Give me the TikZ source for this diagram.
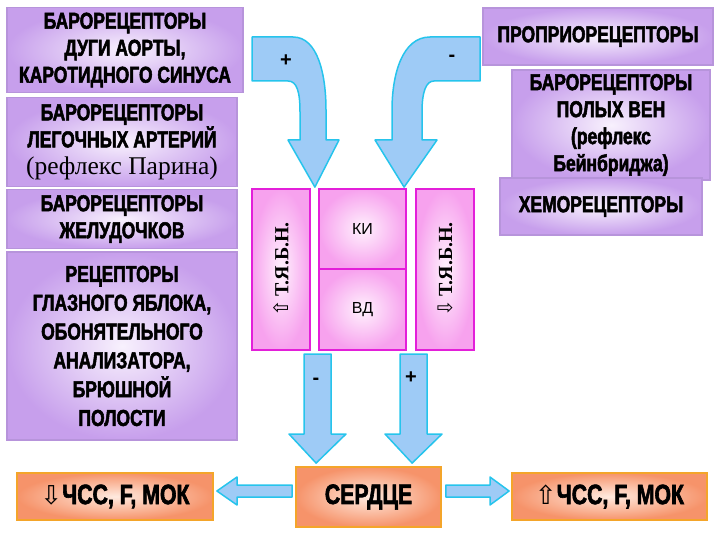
\documentclass[tikz,border=0pt]{standalone}
\usepackage{fontspec}
\usetikzlibrary{calc}
\setmainfont{Liberation Sans}
\newfontfamily\imp[FakeStretch=0.76,FakeBold=2.2]{Liberation Sans Bold}
\newfontfamily\ser{Liberation Serif}
\newfontfamily\dv{DejaVu Sans}
\definecolor{lavD}{HTML}{C79FEC}
\definecolor{lavL}{HTML}{F8F1FD}
\definecolor{lavB}{HTML}{B794DB}
\definecolor{pinkO}{HTML}{F7A2EE}
\definecolor{pinkI}{HTML}{FFF2FD}
\definecolor{pinkB}{HTML}{E31FD9}
\definecolor{orO}{HTML}{F6936A}
\definecolor{orI}{HTML}{FFEADF}
\definecolor{orB}{HTML}{F4A52A}
\definecolor{arF}{HTML}{9ECBF6}
\definecolor{arB}{HTML}{26C4EC}
\tikzset{
  lav/.style={draw=lavB, line width=1.6pt, inner color=lavL, outer color=lavD,
    align=center, inner sep=0pt, font=\imp\fontsize{23}{27}\selectfont},
  pinkbox/.style={draw=pinkB, line width=1.8pt, inner color=pinkI, outer color=pinkO, inner sep=0pt},
  orbox/.style={draw=orB, line width=1.8pt, inner color=orI, outer color=orO, inner sep=0pt,
    font=\imp\fontsize{28}{30}\selectfont},
  fat/.style={draw=arB, line width=1.5pt, fill=arF, line join=round},
  sign/.style={font=\bfseries\fontsize{20}{20}\selectfont, inner sep=0pt},
  tybn/.style={rotate=90, font=\ser\bfseries\fontsize{20}{20}\selectfont, inner sep=0pt}
}
\begin{document}
\begin{tikzpicture}[x=1pt,y=-1pt]
\useasboundingbox (0,0) rectangle (720,540);
% left column
\node[lav, minimum width=236pt, minimum height=85pt] (b1) at (125,50)
  {БАРОРЕЦЕПТОРЫ\\ДУГИ АОРТЫ,\\КАРОТИДНОГО СИНУСА};
\node[lav, minimum width=230pt, minimum height=89pt] (b2) at (122,142)
  {БАРОРЕЦЕПТОРЫ\\ЛЕГОЧНЫХ АРТЕРИЙ\\{\ser\fontsize{25.5}{29}\selectfont(рефлекс Парина)}};
\node[lav, minimum width=230pt, minimum height=59pt] (b3) at (122,219)
  {БАРОРЕЦЕПТОРЫ\\ЖЕЛУДОЧКОВ};
\node[lav, minimum width=230pt, minimum height=188pt, font=\imp\fontsize{23}{28.8}\selectfont] (b4) at (122,346)
  {РЕЦЕПТОРЫ\\ГЛАЗНОГО ЯБЛОКА,\\ОБОНЯТЕЛЬНОГО\\АНАЛИЗАТОРА,\\БРЮШНОЙ\\ПОЛОСТИ};
% right column
\node[lav, minimum width=230pt, minimum height=57pt] (p1) at (598,36.5)
  {ПРОПРИОРЕЦЕПТОРЫ};
\node[lav, minimum width=198pt, minimum height=110pt] (p2) at (611,125)
  {БАРОРЕЦЕПТОРЫ\\ПОЛЫХ ВЕН\\(рефлекс\\Бейнбриджа)};
\node[lav, minimum width=202pt, minimum height=57pt] (p3) at (601,206.5)
  {ХЕМОРЕЦЕПТОРЫ};
% middle boxes
\node[pinkbox, minimum width=58pt, minimum height=161pt] (t1) at (281,269.5) {};
\node[pinkbox, minimum width=87pt, minimum height=80pt] (ki) at (362.5,229)
  {\fontsize{16}{16}\selectfont КИ};
\node[pinkbox, minimum width=87pt, minimum height=81pt] (vd) at (362.5,309.5)
  {\fontsize{16}{16}\selectfont ВД};
\node[pinkbox, minimum width=58pt, minimum height=161pt] (t2) at (445,269.5) {};
\node[tybn] (t1l) at (t1.center) {{\dv\mdseries ⇧}\,Т.Я.Б.Н.};
\node[tybn] (t2l) at (t2.center) {{\dv\mdseries ⇩}\,Т.Я.Б.Н.};
% bottom boxes
\node[orbox, minimum width=196pt, minimum height=47pt] (lo) at (115,496.5)
  {{\dv\fontsize{26}{26}\selectfont ⇩}ЧСС, F, МОК};
\node[orbox, minimum width=145pt, minimum height=60pt] (heart) at (368.5,497)
  {СЕРДЦЕ};
\node[orbox, minimum width=195pt, minimum height=47pt] (hi) at (609.5,496.5)
  {{\dv\fontsize{26}{26}\selectfont ⇧}ЧСС, F, МОК};
% curved arrows into the Т.Я.Б.Н. boxes
\coordinate (c1) at (252,37);
\coordinate (c2) at (480,37);
\draw[fat] (c1) -- (293,37) .. controls (318,37) and (326,75) .. (326,110)
  -- (326,140) -- (339,140) -- ($(t1.north east)+(4,-1)$) -- (288,140) -- (300,140)
  -- (300,112) .. controls (300,92) and (297,81) .. (288,81) -- (252,81) -- cycle;
\draw[fat] (c2) -- (430,37) .. controls (402,37) and (392,75) .. (392,110)
  -- (392,140) -- (375,140) -- ($(t2.north west)+(-11,-1)$) -- (437,140) -- (422,140)
  -- (422,112) .. controls (422,92) and (426,81) .. (434,81) -- (480,81) -- cycle;
\node[sign] (s1) at (286,61) {+};
\node[sign] (s2) at (452,58) {-};
% down arrows to the heart
\draw[fat] (304,354) -- (331,354) -- (331,434) -- (346,434) -- ($(heart.north west)+(21,-3)$)
  -- (289,434) -- (304,434) -- cycle;
\draw[fat] (400,354) -- (427,354) -- (427,434) -- (442,434) -- ($(heart.north west)+(117,-3)$)
  -- (385,434) -- (400,434) -- cycle;
\node[sign] (s3) at (316,381) {-};
\node[sign] (s4) at (411,378) {+};
% horizontal arrows from the heart
\draw[fat] ($(heart.west)+(-3,-12)$) -- (237,485) -- (237,477) -- ($(lo.east)+(3,-5.5)$)
  -- (237,505) -- (237,497) -- ($(heart.west)+(-3,0)$) -- cycle;
\draw[fat] ($(heart.east)+(4,-12)$) -- (490,485) -- (490,477) -- ($(hi.west)+(-2,-5.5)$)
  -- (490,505) -- (490,497) -- ($(heart.east)+(4,0)$) -- cycle;
\end{tikzpicture}
\end{document}
